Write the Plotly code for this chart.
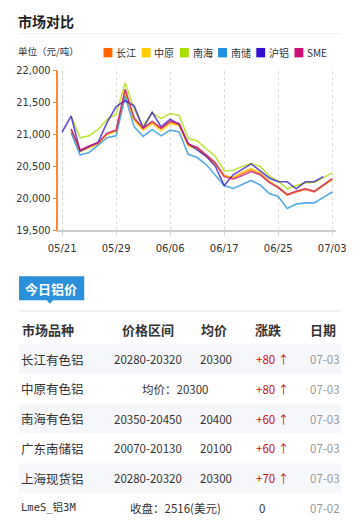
import plotly.graph_objects as go

# ---------------- data ----------------
dates = ["05/21","05/22","05/23","05/24","05/27","05/28","05/29","05/30","05/31","06/03",
         "06/04","06/05","06/06","06/10","06/11","06/12","06/13","06/14","06/17","06/18",
         "06/19","06/20","06/21","06/24","06/25","06/26","06/27","06/28","07/01","07/02","07/03"]
tick_labels = ["05/21", "05/29", "06/06", "06/17", "06/25", "07/03"]
y_ticks = [19500, 20000, 20500, 21000, 21500, 22000]

series_names = ["长江", "中原", "南海", "南储", "沪铝", "SME"]
changjiang = [None,21080,20750,20810,20860,21010,21060,21690,21240,21090,21190,21090,21190,21160,20840,
              20790,20670,20550,20360,20320,20390,20450,20380,20260,20170,20050,20100,20140,20100,20200,20300]
zhongyuan = [None,21060,20730,20790,20850,21000,21050,21650,21220,21070,21170,21060,21170,21140,20820,
             20770,20660,20540,20350,20330,20410,20470,20400,20270,20180,20060,20110,20150,20110,20210,20300]
nanhai = [None,21290,20950,20980,21080,21240,21320,21810,21400,21130,21340,21250,21330,21300,20940,
          20900,20780,20660,20430,20440,20500,20550,20500,20350,20270,20150,20200,20240,20250,20330,20400]
nanchu = [None,21030,20680,20720,20830,20950,20980,21600,21120,20970,21080,20980,21070,21040,20690,
          20640,20530,20370,20200,20155,20220,20280,20210,20075,20030,19840,19910,19930,19930,20015,20100]
hulv = [21040,21290,20740,20810,20880,21190,21440,21530,21450,21100,21350,21120,21240,21160,20860,
        20760,20660,20510,20200,20370,20450,20540,20430,20320,20260,20260,20150,20260,20260,20340,None]
sme = [None,21090,20760,20820,20870,21020,21070,21710,21260,21100,21210,21100,21210,21170,20850,
       20800,20680,20560,20340,20300,20360,20420,20370,20250,20170,20060,20110,20150,20110,20210,20310]
series_values = [changjiang, zhongyuan, nanhai, nanchu, hulv, sme]
series_colors = ["#FF6600", "#FFCC00", "#AADD00", "#1E90DD", "#3311CC", "#CC1177"]

# table
header = ["市场品种", "价格区间", "均价", "涨跌", "日期"]
row_names = ["长江有色铝", "中原有色铝", "南海有色铝", "广东南储铝", "上海现货铝", "LmeS_铝3M"]
row_ranges = ["20280-20320", None, "20350-20450", "20070-20130", "20280-20320", None]
row_avgs = ["20300", None, "20400", "20100", "20300", None]
row_merged = [None, "均价：20300", None, None, None, "收盘：2516(美元)"]
row_changes = ["+80", "+80", "+60", "+60", "+70", "0"]
row_dates = ["07-03", "07-03", "07-03", "07-03", "07-03", "07-02"]

# The page keeps the browser's default 8px body margin, so the figure is
# sized to fill the window inside that margin; helpers take window pixels.
PAD = 8
W, H = 360 - 2 * PAD, 530 - 2 * PAD
def px(x):
    return (x - PAD) / W
def py(y):
    return 1 - (y - PAD) / H

CJK = "Noto Sans CJK SC"
fig = go.Figure()

for name, vals, col in zip(series_names, series_values, series_colors):
    fig.add_trace(go.Scatter(x=dates, y=vals, mode="lines", name=name,
                             line=dict(color=col, width=1.6), opacity=0.75,
                             connectgaps=False, hoverinfo="skip"))

ann = []
shapes = []

def text(x, y, t, size, color="#333", anchor="left", family=CJK):
    ann.append(dict(xref="paper", yref="paper", x=px(x), y=py(y), text=t, showarrow=False,
                    xanchor=anchor, yanchor="middle", font=dict(family=family, size=size, color=color)))

# title & separator
text(5, 15.5, "<b>市场对比</b>", 14, "#222")
shapes.append(dict(type="line", xref="paper", yref="paper", x0=0, x1=1, y0=py(28), y1=py(28),
                   line=dict(color="#eeeeee", width=1)))
text(5, 46, "单位（元/吨）", 9.5)

# legend
lx0 = 98.3
for i, (name, col) in enumerate(zip(series_names, series_colors)):
    x0 = lx0 + i * 40.8
    shapes.append(dict(type="rect", xref="paper", yref="paper", x0=px(x0), x1=px(x0 + 9.5),
                       y0=py(52.3), y1=py(42.7), fillcolor=col, line=dict(width=0)))
    text(x0 + 11.5, 47.5, name, 10)

# tab
shapes.append(dict(type="rect", xref="paper", yref="paper", x0=px(8), x1=px(77.7),
                   y0=py(300.5), y1=py(276), fillcolor="#2B90DA", line=dict(width=0)))
shapes.append(dict(type="path", xref="paper", yref="paper",
                   path=f"M {px(37.5)} {py(300.3)} L {px(44.5)} {py(300.3)} L {px(41)} {py(304)} Z",
                   fillcolor="#2B90DA", line=dict(width=0)))
text(42.5, 288.3, "<b>今日铝价</b>", 13, "white", "center")
shapes.append(dict(type="line", xref="paper", yref="paper", x0=0, x1=1, y0=py(311.5), y1=py(311.5),
                   line=dict(color="#e6e6e6", width=1.2)))

# header
hx = [9, 146, 216, 274, 333]
for i, (t, x) in enumerate(zip(header, hx)):
    text(x, 330, f"<b>{t}</b>", 13, "#333", "left" if i == 0 else "center")

# rows
row_h = 30.4
top = 345.5
for r in range(len(row_names)):
    yc = top + row_h * (r + 0.5)
    if r % 2 == 0:
        shapes.append(dict(type="rect", xref="paper", yref="paper", x0=0, x1=1,
                           y0=py(top + row_h * (r + 1)), y1=py(top + row_h * r),
                           fillcolor="#f6f7fa", line=dict(width=0), layer="below"))
    if r == 5:
        text(8, yc, row_names[r], 10.5, "#333", "left", "DejaVu Sans Mono, " + CJK)
    else:
        text(8, yc, row_names[r], 12.5)
    if row_merged[r] is not None:
        text(175, yc, row_merged[r], 11.5, "#333", "center")
    else:
        text(146, yc, row_ranges[r], 11.5, "#333", "center")
        text(218, yc, row_avgs[r], 11.5, "#333", "center")
    ch = row_changes[r]
    if ch.startswith("+"):
        text(259, yc, ch + " ↑", 11.5, "#CC1122")
    else:
        text(262, yc, ch, 11.5)
    text(335, yc, row_dates[r], 11.5, "#999", "center")

fig.update_layout(
    width=W, height=H, margin=dict(l=0, r=0, t=0, b=0), autosize=False,
    paper_bgcolor="white", plot_bgcolor="white", showlegend=False,
    annotations=ann, shapes=shapes,
    xaxis=dict(type="category", categoryorder="array", categoryarray=dates,
               range=[-0.42, 30.42], domain=[px(50), px(346.7)],
               tickmode="array", tickvals=tick_labels, ticktext=tick_labels,
               showgrid=True, gridcolor="#d9d9d9", griddash="dot", gridwidth=1,
               showline=True, linecolor="#cccccc", linewidth=1.5,
               ticks="outside", ticklen=4, tickcolor="#d9d9d9",
               tickfont=dict(family="DejaVu Sans", size=10, color="#333"),
               ticklabelstandoff=4,
               zeroline=False, fixedrange=True),
    yaxis=dict(range=[19500, 22000], domain=[py(229), py(66)],
               tickmode="array", tickvals=y_ticks, tickformat=",",
               showgrid=False, zeroline=False,
               showline=True, linecolor="#FF8833", linewidth=1.5,
               ticks="outside", ticklen=4, tickcolor="#FF8833",
               tickfont=dict(family="DejaVu Sans", size=9.8, color="#333"),
               ticklabelstandoff=0,
               fixedrange=True),
)

fig.write_html("out.html", config={"displayModeBar": False})
